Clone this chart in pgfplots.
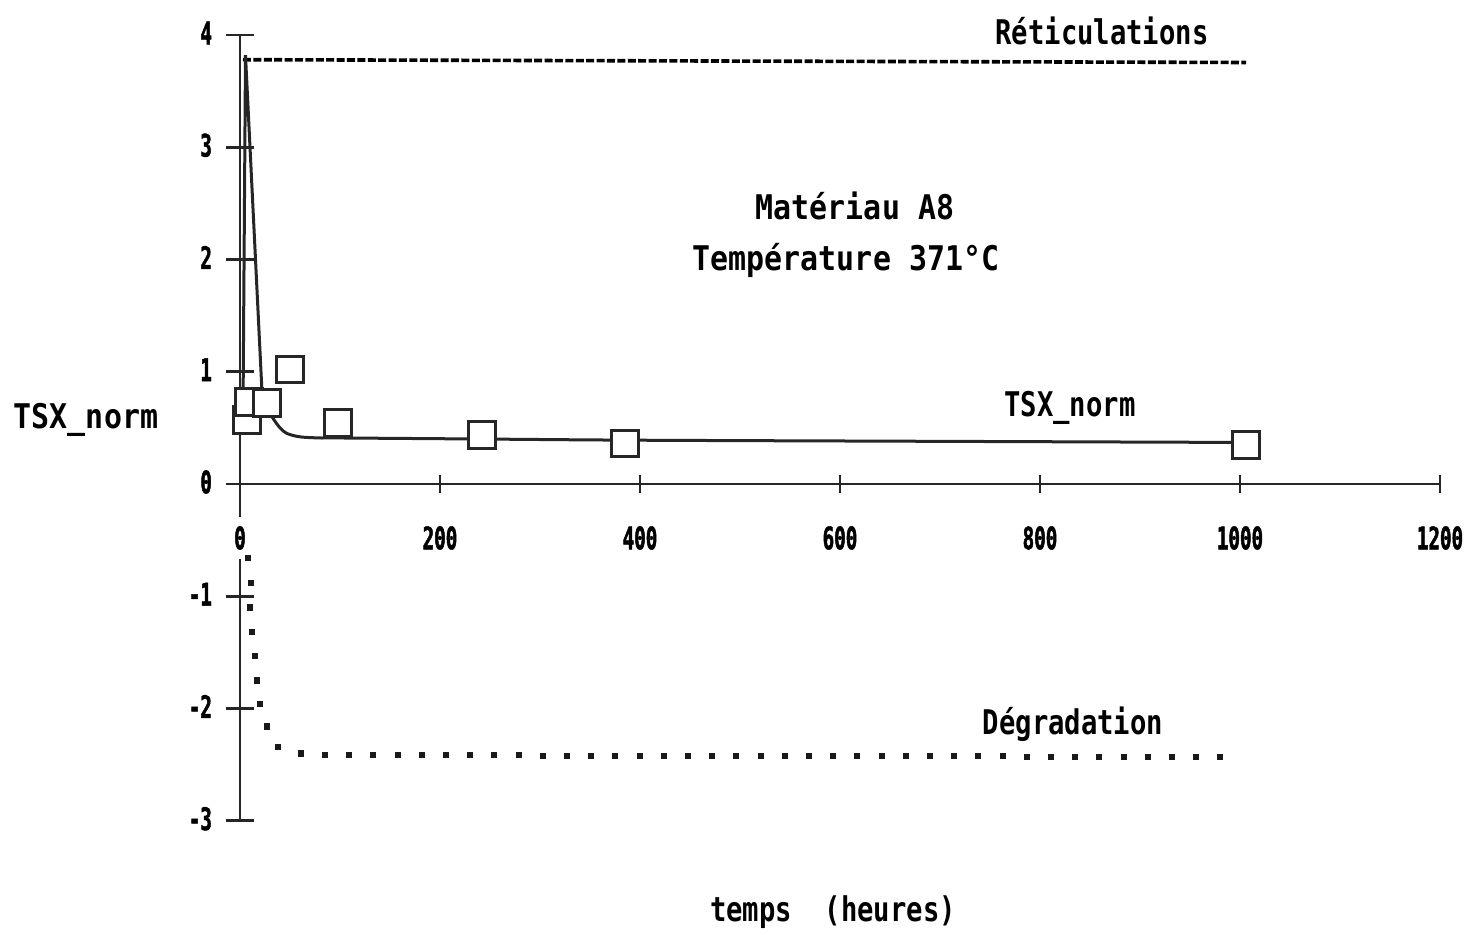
\documentclass[border=0pt]{standalone}
\usepackage{fontspec}
\usepackage{pgfplots}
\pgfplotsset{compat=1.18}
\newfontfamily\lblfont[FakeStretch=0.8]{DejaVu Sans Mono}
\newfontfamily\lblwfont[FakeStretch=0.88]{DejaVu Sans Mono}
\newfontfamily\tickfont[FakeStretch=0.62, UprightFont={* Bold}, FakeBold=1.5]{DejaVu Sans Mono}
\newcommand{\lbl}{\lblfont\bfseries\fontsize{17}{20}\selectfont}
\newcommand{\lblw}{\lblwfont\bfseries\fontsize{17}{20}\selectfont}
\begin{document}
\begin{tikzpicture}
\path[use as bounding box] (-120pt,-225.5pt) rectangle (614.5pt,242pt);
\begin{axis}[
  at={(0,0)}, anchor=origin,
  x=0.5pt, y=56.125pt,
  xmin=0, xmax=1200, ymin=-3, ymax=4,
  axis lines=middle,
  axis line style={-, line width=1.4pt, black!85},
  clip=false,
  xtick={0,200,...,1200}, ytick={-3,...,4},
  hide obscured x ticks=false, hide obscured y ticks=false,
  tick align=center,
  major tick length=14pt,
  xtick style={/pgfplots/major tick length=9pt, line width=1.4pt, black!85},
  ytick style={line width=1.4pt, black!85},
  minor tick num=0,
  /pgf/number format/assume math mode=true,
  /pgf/number format/1000 sep={},
  ticklabel style={font=\tickfont\fontsize{15.5}{15.5}\selectfont},
  xticklabel style={anchor=center, yshift=-20pt, fill=white, minimum height=21pt, inner xsep=1pt},
  yticklabel style={anchor=east, xshift=-3.5pt, yshift=1pt},
]
% Reticulations (dashed)
\addplot[black, line width=1.8pt, dash pattern=on 4pt off 1.2pt] coordinates {(3,3.78) (1006,3.755)};
% fitted curve
\addplot[black!85, line width=1.5pt] coordinates {(3,0.62) (5.5,3.82) (22,0.82)};
\addplot[black!85, line width=1.5pt, smooth] coordinates {
 (22,0.82) (27,0.70) (32,0.60) (40,0.50) (47,0.45) (60,0.42) (80,0.41) (100,0.41) (250,0.40) (400,0.39) (700,0.38) (1007,0.37)};
% measured points
\addplot[only marks, mark=square*, mark size=6.7pt, mark options={draw=black!85, fill=white, line width=1.5pt}] coordinates {
 (7,0.57) (9,0.73) (27,0.72) (50,1.02) (98,0.54) (242,0.44) (385,0.36) (1006,0.35)};
% Degradation (dotted)
\addplot[only marks, mark=square*, mark size=1.3pt, black!90] coordinates {
 (8,-0.66) (11,-0.88) (10,-1.10) (12,-1.32) (15,-1.53) (17,-1.75) (20,-1.96) (27,-2.16) (38,-2.34) (61,-2.40) (85,-2.41)
 (109,-2.41) (133,-2.41) (158,-2.41) (182,-2.41) (206,-2.41) (230,-2.41) (254,-2.41) (279,-2.41) (303,-2.42) (327,-2.42)
 (351,-2.42) (375,-2.42) (400,-2.42) (424,-2.42) (448,-2.42) (472,-2.42) (496,-2.42) (521,-2.42) (545,-2.42) (569,-2.42)
 (593,-2.42) (617,-2.42) (642,-2.42) (666,-2.42) (690,-2.42) (714,-2.42) (738,-2.42) (763,-2.42) (787,-2.43) (811,-2.43)
 (835,-2.43) (859,-2.43) (884,-2.43) (908,-2.43) (932,-2.43) (956,-2.43) (980,-2.43)};
% texts
\node[font=\lbl] at (axis cs:862,4.04) {Réticulations};
\node[font=\lblw] at (axis cs:615,2.48) {Matériau A8};
\node[font=\lblw] at (axis cs:606,1.99) {Température 371°C};
\node[font=\lbl] at (axis cs:830,0.68) {TSX\_norm};
\node[font=\lbl] at (axis cs:833,-2.14) {Dégradation};
\node[font=\lbl] at (axis cs:593,-3.81) {temps\ \ (heures)};
\node[font=\lblw] at (axis cs:-154,0.57) {TSX\_norm};
\end{axis}
\end{tikzpicture}
\end{document}
